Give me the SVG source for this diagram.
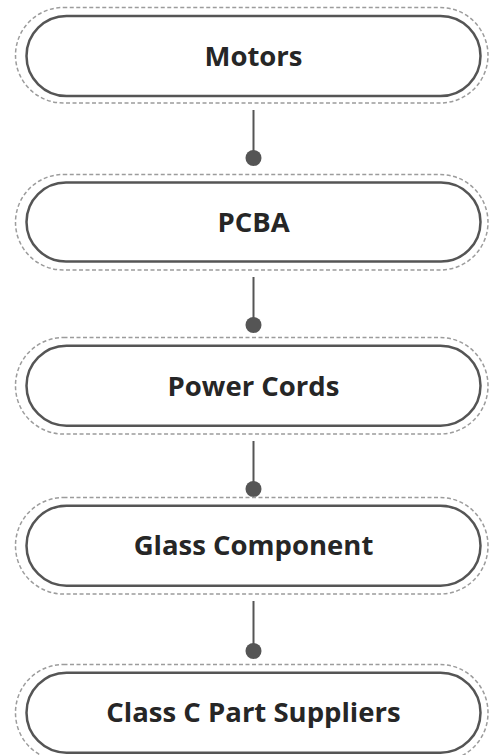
<svg xmlns="http://www.w3.org/2000/svg" width="490" height="755" viewBox="0 0 490 755">
<style>
.outer{fill:none;stroke:#9c9c9c;stroke-width:1.5;stroke-dasharray:4 2.5}
.inner{fill:#fff;stroke:#555;stroke-width:2.5}
.lbl{font-family:"Open Sans","Noto Sans",sans-serif;font-weight:700;font-size:27.5px;fill:#262626;text-anchor:middle}
.conn line{stroke:#555;stroke-width:2}
.conn circle{fill:#555}
</style>
<rect width="490" height="755" fill="#fff"/>
<g id="connectors" class="conn">
<line x1="253.5" y1="110" x2="253.5" y2="158"/><circle cx="253.5" cy="158" r="8"/>
<line x1="253.5" y1="277" x2="253.5" y2="325"/><circle cx="253.5" cy="325" r="8"/>
<line x1="253.5" y1="441" x2="253.5" y2="489"/><circle cx="253.5" cy="489" r="8"/>
<line x1="253.5" y1="601" x2="253.5" y2="651"/><circle cx="253.5" cy="651" r="8"/>
</g>
<g id="node-motors">
<rect class="outer" x="15.5" y="7.5" width="472.5" height="95.5" rx="47.75"/>
<rect class="inner" x="26.5" y="16" width="454" height="80" rx="40"/>
<text class="lbl" x="253.5" y="66">Motors</text>
</g>
<g id="node-pcba">
<rect class="outer" x="15.5" y="174.5" width="472.5" height="95.5" rx="47.75"/>
<rect class="inner" x="26.5" y="182.5" width="454" height="79" rx="39.5"/>
<text class="lbl" x="253.5" y="232">PCBA</text>
</g>
<g id="node-power-cords">
<rect class="outer" x="15.5" y="337.5" width="472.5" height="96.5" rx="48"/>
<rect class="inner" x="26.5" y="345.7" width="454" height="80" rx="40"/>
<text class="lbl" x="253.5" y="396">Power Cords</text>
</g>
<g id="node-glass">
<rect class="outer" x="15.5" y="497.5" width="472.5" height="96.5" rx="48"/>
<rect class="inner" x="26.5" y="505.7" width="454" height="80" rx="40"/>
<text class="lbl" x="253.5" y="555">Glass Component</text>
</g>
<g id="node-class-c">
<rect class="outer" x="15.5" y="664.5" width="472.5" height="96.5" rx="48"/>
<rect class="inner" x="26.5" y="672.7" width="454" height="80" rx="40"/>
<text class="lbl" x="253.5" y="722">Class C Part Suppliers</text>
</g>
</svg>
